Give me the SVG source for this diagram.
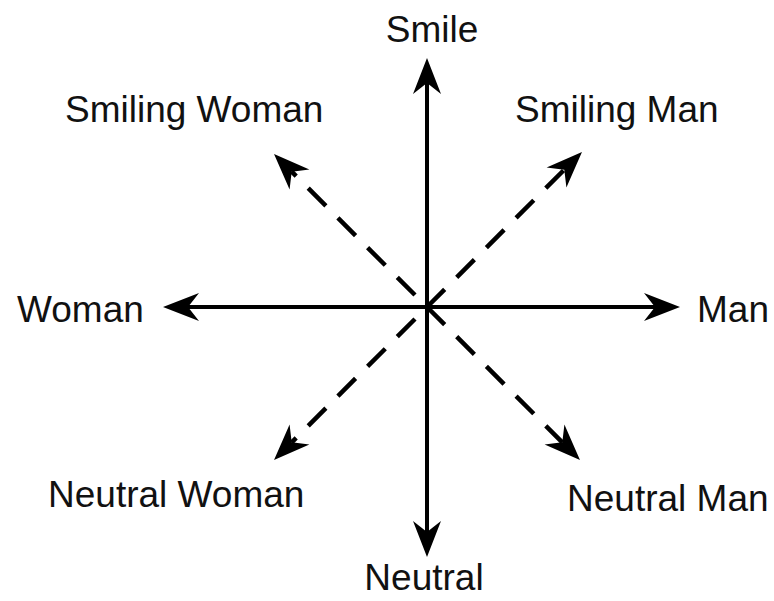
<svg xmlns="http://www.w3.org/2000/svg" width="774" height="601" viewBox="0 0 774 601">
<style>
.lbl{font-family:"Liberation Sans",Arial,sans-serif;font-size:37px;fill:#111}
.ax{stroke:#000;stroke-width:4;fill:none;marker-end:url(#ah)}
.dg{stroke:#000;stroke-width:4.5;fill:none;stroke-dasharray:25 17;marker-end:url(#ah)}
</style>
<defs>
<marker id="ah" markerUnits="userSpaceOnUse" viewBox="-12 -15 38 30" markerWidth="38" markerHeight="30" refX="0" refY="0" orient="auto">
<path d="M25,0 L-11,-14 L0,0 L-11,14 Z" fill="#000"/>
</marker>
</defs>
<rect width="774" height="601" fill="#fff"/>
<g id="connectors">
<path class="ax" d="M427,307 L427,83"/>
<path class="ax" d="M427,307 L427,532"/>
<path class="ax" d="M427,307 L188,307"/>
<path class="ax" d="M427,307 L655,307"/>
<path class="dg" style="stroke-dashoffset:25" d="M427,307 L291.7,171.7"/>
<path class="dg" style="stroke-dashoffset:25" d="M427,307 L291.7,442.3"/>
<path class="dg" d="M427,307 L564.3,169.7"/>
<path class="dg" d="M427,307 L562.3,442.3"/>
</g>
<g id="smile"><text class="lbl" x="432" y="42" text-anchor="middle">Smile</text></g>
<g id="neutral"><text class="lbl" x="424" y="590" text-anchor="middle">Neutral</text></g>
<g id="woman"><text class="lbl" x="17" y="322">Woman</text></g>
<g id="man"><text class="lbl" x="697" y="322">Man</text></g>
<g id="smiling-woman"><text class="lbl" x="65" y="122">Smiling Woman</text></g>
<g id="smiling-man"><text class="lbl" x="515" y="122">Smiling Man</text></g>
<g id="neutral-woman"><text class="lbl" x="48" y="507">Neutral Woman</text></g>
<g id="neutral-man"><text class="lbl" x="567" y="511">Neutral Man</text></g>
</svg>
